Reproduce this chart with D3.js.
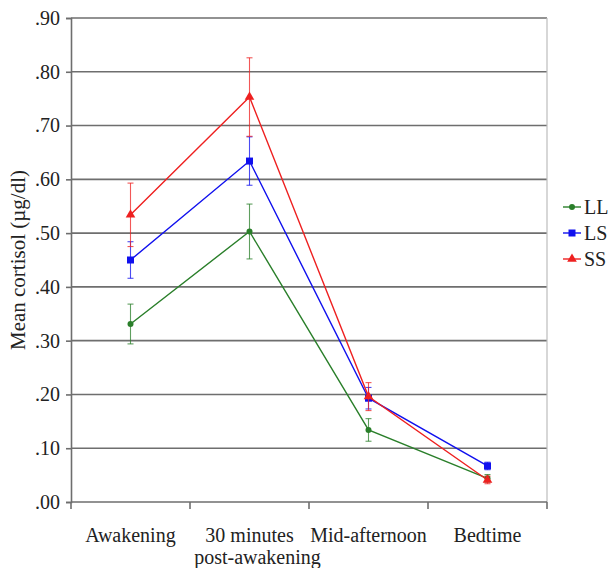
<!DOCTYPE html>
<html><head><meta charset="utf-8">
<script src="https://cdn.jsdelivr.net/npm/d3@7"></script>
<style>body{margin:0;background:#fff}svg{display:block}</style>
</head><body>
<script>
const categories = ["Awakening", "30 minutes|post-awakening", "Mid-afternoon", "Bedtime"];
const seriesNames = ["LL", "LS", "SS"];
const seriesColors = ["#2a7f2a", "#1010ee", "#ee2020"];
const LL = [0.331, 0.503, 0.134, 0.044];
const LS = [0.450, 0.634, 0.193, 0.067];
const SS = [0.534, 0.753, 0.196, 0.041];
const LL_err = [0.037, 0.051, 0.021, 0.007];
const LS_err = [0.034, 0.045, 0.020, 0.007];
const SS_err = [0.059, 0.073, 0.026, 0.007];
const yTicks = [0, 0.1, 0.2, 0.3, 0.4, 0.5, 0.6, 0.7, 0.8, 0.9];
const yTickLabels = [".00", ".10", ".20", ".30", ".40", ".50", ".60", ".70", ".80", ".90"];

const values = [LL, LS, SS];
const errs = [LL_err, LS_err, SS_err];

const W = 616, H = 568;
const m = {left: 71, right: 69, top: 18, bottom: 66};
const FONT = "'Liberation Serif', 'Times New Roman', serif";
const svg = d3.select("body").append("svg").attr("width", W).attr("height", H)
  .style("font-family", FONT);

const x = d3.scaleBand().domain(categories).range([m.left, W - m.right]);
const y = d3.scaleLinear().domain([0, 0.9]).range([H - m.bottom, m.top]);

// gridlines
svg.append("g").selectAll("line").data(yTicks.filter(d => d > 0)).join("line")
  .attr("x1", m.left).attr("x2", W - m.right)
  .attr("y1", d => y(d)).attr("y2", d => y(d))
  .attr("stroke", "#6e6e6e").attr("stroke-width", 1.6);

// right border
svg.append("line").attr("x1", W - m.right).attr("x2", W - m.right)
  .attr("y1", y(0.9)).attr("y2", y(0)).attr("stroke", "#bdbdbd").attr("stroke-width", 1.2);

// y axis
const yAxis = d3.axisLeft(y).tickValues(yTicks).tickFormat((d, i) => yTickLabels[i]).tickSize(5).tickPadding(6);
const gy = svg.append("g").attr("transform", `translate(${m.left},0)`).call(yAxis);
gy.select(".domain").attr("stroke", "#6e6e6e").attr("stroke-width", 1.6);
gy.selectAll(".tick line").attr("stroke", "#6e6e6e").attr("stroke-width", 1.6);
gy.selectAll("text").attr("font-size", 20).attr("fill", "#222").attr("font-family", FONT);

// x axis
const xAxis = d3.axisBottom(x).tickSize(0).tickFormat("");
const gx = svg.append("g").attr("transform", `translate(0,${y(0)})`).call(xAxis);
gx.select(".domain").attr("stroke", "#6e6e6e").attr("stroke-width", 1.6).attr("d", `M${m.left},0H${W - m.right}`);
// boundary ticks
const bounds = categories.map(c => x(c)).concat([x(categories[categories.length - 1]) + x.bandwidth()]);
gx.selectAll(".btick").data(bounds).join("line").attr("class", "btick")
  .attr("x1", d => d).attr("x2", d => d).attr("y1", 0).attr("y2", 7)
  .attr("stroke", "#6e6e6e").attr("stroke-width", 1.6);
// category labels
categories.forEach((c, i) => {
  const lines = c.split("|");
  const cx = x(c) + x.bandwidth() / 2;
  lines.forEach((t, j) => {
    svg.append("text").attr("x", cx + (j === 1 ? 8 : 0)).attr("y", y(0) + 40 + j * 22)
      .attr("text-anchor", "middle").attr("font-size", 20).attr("fill", "#222").text(t);
  });
});

// y label
svg.append("text").attr("transform", `translate(25,${(y(0) + y(0.9)) / 2}) rotate(-90)`)
  .attr("text-anchor", "middle").attr("font-size", 21).attr("fill", "#222").text("Mean cortisol (µg/dl)");

const cxOf = i => x(categories[i]) + x.bandwidth() / 2;

function marker(g, k, color) {
  if (k === 0) {
    g.append("circle").attr("r", 3).attr("fill", color);
  } else if (k === 1) {
    g.append("rect").attr("x", -3.5).attr("y", -3.5).attr("width", 7).attr("height", 7).attr("fill", color);
  } else {
    g.append("path").attr("d", d3.symbol().type(d3.symbolTriangle).size(40)()).attr("fill", color);
  }
}

const line = d3.line().x((d, i) => cxOf(i)).y(d => y(d));
values.forEach((vals, k) => {
  const color = seriesColors[k];
  const g = svg.append("g");
  // error bars
  vals.forEach((v, i) => {
    const e = errs[k][i], cx = cxOf(i);
    g.append("line").attr("x1", cx).attr("x2", cx).attr("y1", y(v - e)).attr("y2", y(v + e))
      .attr("stroke", color).attr("stroke-width", 1.1).attr("opacity", 0.75);
    [v - e, v + e].forEach(t => g.append("line").attr("x1", cx - 3).attr("x2", cx + 3)
      .attr("y1", y(t)).attr("y2", y(t)).attr("stroke", color).attr("stroke-width", 1.1).attr("opacity", 0.75));
  });
  g.append("path").datum(vals).attr("d", line).attr("fill", "none")
    .attr("stroke", color).attr("stroke-width", 1.4);
  vals.forEach((v, i) => {
    const mg = g.append("g").attr("transform", `translate(${cxOf(i)},${y(v)})`);
    marker(mg, k, color);
  });
});

// legend
seriesNames.forEach((n, k) => {
  const ly = 207 + k * 26;
  const lg = svg.append("g").attr("transform", `translate(563,${ly})`);
  lg.append("line").attr("x1", 0).attr("x2", 18).attr("y1", 0).attr("y2", 0)
    .attr("stroke", seriesColors[k]).attr("stroke-width", 1.4);
  const mg = lg.append("g").attr("transform", "translate(9,0)");
  marker(mg, k, seriesColors[k]);
  lg.append("text").attr("x", 21).attr("y", 7).attr("font-size", 20).attr("fill", "#222").text(n);
});
</script>
</body></html>
